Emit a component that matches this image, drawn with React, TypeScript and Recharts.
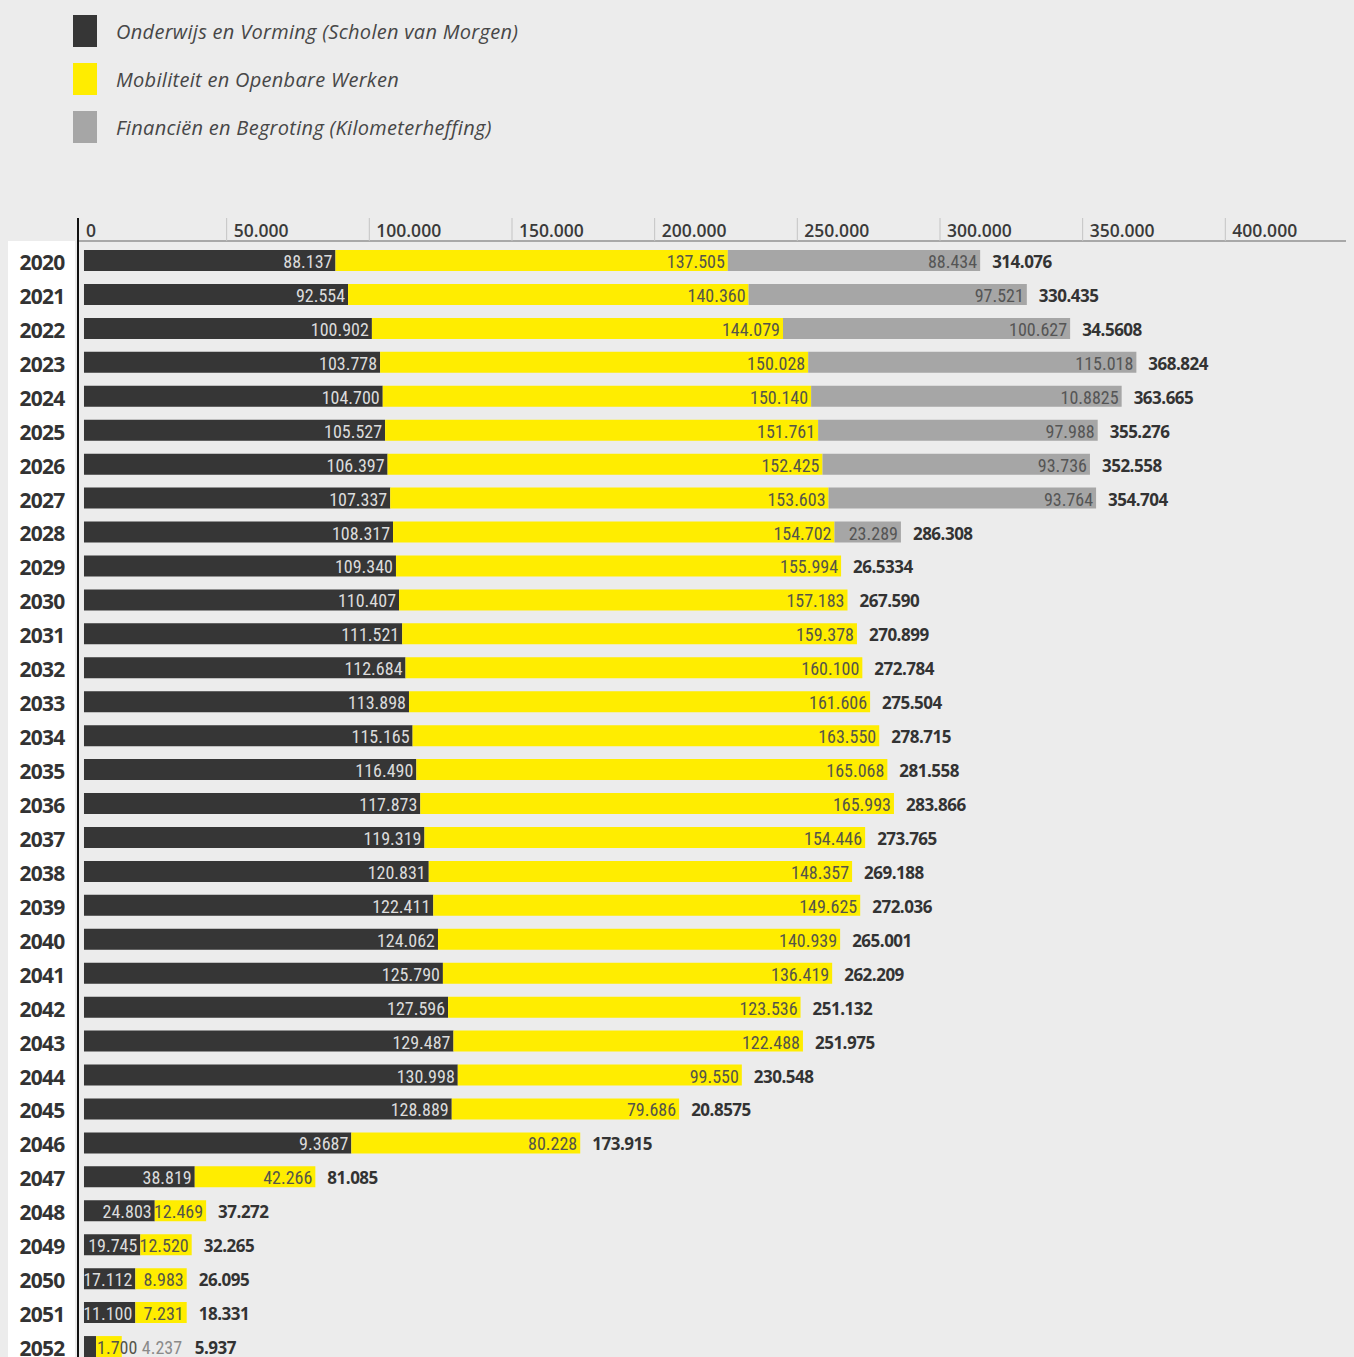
import { Bar, BarChart, LabelList, XAxis, YAxis } from "recharts"

const years = [
  "2020", "2021", "2022", "2023", "2024", "2025", "2026", "2027", "2028", "2029", "2030",
  "2031", "2032", "2033", "2034", "2035", "2036", "2037", "2038", "2039", "2040", "2041",
  "2042", "2043", "2044", "2045", "2046", "2047", "2048", "2049", "2050", "2051", "2052",
]

// Onderwijs en Vorming (Scholen van Morgen)
const onderwijs = [
  88137, 92554, 100902, 103778, 104700, 105527, 106397, 107337, 108317, 109340, 110407,
  111521, 112684, 113898, 115165, 116490, 117873, 119319, 120831, 122411, 124062, 125790,
  127596, 129487, 130998, 128889, 93687, 38819, 24803, 19745, 17112, 11100, 4237,
]

// Mobiliteit en Openbare Werken
const mobiliteit = [
  137505, 140360, 144079, 150028, 150140, 151761, 152425, 153603, 154702, 155994, 157183,
  159378, 160100, 161606, 163550, 165068, 165993, 154446, 148357, 149625, 140939, 136419,
  123536, 122488, 99550, 79686, 80228, 42266, 12469, 12520, 8983, 7231, 1700,
]

// Financiën en Begroting (Kilometerheffing)
const financien = [
  88434, 97521, 100627, 115018, 108825, 97988, 93736, 93764, 23289, 0, 0,
  0, 0, 0, 0, 0, 0, 0, 0, 0, 0, 0,
  0, 0, 0, 0, 0, 0, 0, 0, 0, 0, 0,
]

// labels as printed in the source (typos included)
const onderwijsLabels = [
  "88.137", "92.554", "100.902", "103.778", "104.700", "105.527", "106.397", "107.337", "108.317", "109.340", "110.407",
  "111.521", "112.684", "113.898", "115.165", "116.490", "117.873", "119.319", "120.831", "122.411", "124.062", "125.790",
  "127.596", "129.487", "130.998", "128.889", "9.3687", "38.819", "24.803", "19.745", "17.112", "11.100", "4.237",
]
const mobiliteitLabels = [
  "137.505", "140.360", "144.079", "150.028", "150.140", "151.761", "152.425", "153.603", "154.702", "155.994", "157.183",
  "159.378", "160.100", "161.606", "163.550", "165.068", "165.993", "154.446", "148.357", "149.625", "140.939", "136.419",
  "123.536", "122.488", "99.550", "79.686", "80.228", "42.266", "12.469", "12.520", "8.983", "7.231", "1.700",
]
const financienLabels = [
  "88.434", "97.521", "100.627", "115.018", "10.8825", "97.988", "93.736", "93.764", "23.289",
]
const totalLabels = [
  "314.076", "330.435", "34.5608", "368.824", "363.665", "355.276", "352.558", "354.704", "286.308", "26.5334", "267.590",
  "270.899", "272.784", "275.504", "278.715", "281.558", "283.866", "273.765", "269.188", "272.036", "265.001", "262.209",
  "251.132", "251.975", "230.548", "20.8575", "173.915", "81.085", "37.272", "32.265", "26.095", "18.331", "5.937",
]

const ticks = [0, 50000, 100000, 150000, 200000, 250000, 300000, 350000, 400000]

const DARK = "#363636"
const YELLOW = "#ffed00"
const GREY = "#a6a6a6"
const SANS = "'Open Sans', sans-serif"
const NARROW = "'Liberation Sans Narrow', 'Roboto Condensed', sans-serif"

// the source widens the smallest segments so their label fits
const shown = (v: number, tiny: number) => (v >= 5000 ? Math.max(v, 18000) : Math.max(v, tiny))

const chartData = years.map((year, i) => ({
  year,
  onderwijs: shown(onderwijs[i], 0),
  mobiliteit: shown(mobiliteit[i], 9000),
  financien: financien[i],
}))

const insideLabel = (labels: string[], color: string) => (props: any) => {
  const { x, y, width, height, index } = props
  const text = labels[index]
  if (!text || width < 20) return null
  const fits = width > 35
  return (
    <text
      x={fits ? x + width - 3 : x + 1}
      y={y + height / 2 + 1}
      textAnchor={fits ? "end" : "start"}
      dominantBaseline="central"
      fill={color}
      fontFamily={NARROW}
      fontSize={18}
    >
      {text}
    </text>
  )
}

// total goes after the last non-empty segment of the row
const totalLabel = (onGrey: boolean) => (props: any) => {
  const { x, y, width, height, index } = props
  if (onGrey !== financien[index] > 0) return null
  const end = x + width
  const cy = y + height / 2 + 1
  const tinyDark = onderwijs[index] < 5000
  return (
    <g>
      {tinyDark && (
        <text x={end + 20} y={cy} dominantBaseline="central" fill="#8a8a8a" fontFamily={NARROW} fontSize={18}>
          {onderwijsLabels[index]}
        </text>
      )}
      <text
        x={end + (tinyDark ? 73 : 12)}
        y={cy}
        dominantBaseline="central"
        fill="#333"
        fontFamily={SANS}
        fontWeight={700}
        fontSize={17}
        letterSpacing={-0.5}
      >
        {totalLabels[index]}
      </text>
    </g>
  )
}

const XTick = (props: any) => {
  const { x, payload } = props
  const label = payload.value.toLocaleString("nl-BE")
  return (
    <g>
      {payload.value === 0 ? (
        <line x1={70} x2={70} y1={18} y2={42} stroke="#111" strokeWidth={2} />
      ) : (
        <line x1={x} x2={x} y1={18} y2={41} stroke="#c4c4c4" strokeWidth={1} />
      )}
      <text x={payload.value === 0 ? 78 : x + 7} y={37} fill="#3a3a3a" fontFamily={SANS} fontWeight={600} fontSize={17.5}>
        {label}
      </text>
    </g>
  )
}

const YTick = (props: any) => {
  const { y, payload } = props
  return (
    <text
      x={34}
      y={y + 1}
      textAnchor="middle"
      dominantBaseline="central"
      fill="#333"
      fontFamily={SANS}
      fontWeight={700}
      fontSize={21}
      letterSpacing={-0.7}
    >
      {payload.value}
    </text>
  )
}

const legendItems = [
  { name: "Onderwijs en Vorming (Scholen van Morgen)", color: DARK },
  { name: "Mobiliteit en Openbare Werken", color: YELLOW },
  { name: "Financiën en Begroting (Kilometerheffing)", color: GREY },
]

export default function App() {
  return (
    <div style={{ position: "relative", width: 1354, height: 1349 }}>
      <style>{"html{overflow:hidden;background:#ececec}"}</style>
      <div style={{ position: "absolute", left: 65, top: 7 }}>
        {legendItems.map((item) => (
          <div key={item.name} style={{ display: "flex", alignItems: "center", height: 32, marginBottom: 16 }}>
            <div style={{ width: 24, height: 32, background: item.color }} />
            <span
              style={{
                marginLeft: 19,
                fontFamily: SANS,
                fontStyle: "italic",
                fontSize: 20,
                letterSpacing: 0.3,
                color: "#474747",
              }}
            >
              {item.name}
            </span>
          </div>
        ))}
      </div>
      <div style={{ position: "absolute", left: -2, top: 233, width: 69, height: 1200, background: "#fff" }} />
      <div style={{ position: "absolute", left: 0, top: 192 }}>
        <BarChart
          width={1354}
          height={1164}
          data={chartData}
          layout="vertical"
          margin={{ top: 0, right: 0, bottom: 0, left: 0 }}
          barSize={21}
        >
          <XAxis
            type="number"
            orientation="top"
            domain={[-2100, 447900]}
            ticks={ticks}
            height={41}
            tickLine={false}
            axisLine={{ stroke: "#a8a8a8", strokeWidth: 2 }}
            tick={<XTick />}
            interval={0}
          />
          <YAxis
            type="category"
            dataKey="year"
            width={70}
            tickLine={false}
            axisLine={{ stroke: "#111", strokeWidth: 2 }}
            tick={<YTick />}
            interval={0}
            padding={{ top: 3, bottom: 0 }}
          />
          <Bar dataKey="onderwijs" stackId="a" fill={DARK} isAnimationActive={false}>
            <LabelList dataKey="onderwijs" content={insideLabel(onderwijsLabels, "#dcdcdc")} />
          </Bar>
          <Bar dataKey="mobiliteit" stackId="a" fill={YELLOW} isAnimationActive={false}>
            <LabelList dataKey="mobiliteit" content={insideLabel(mobiliteitLabels, "#55554a")} />
            <LabelList dataKey="mobiliteit" content={totalLabel(false)} />
          </Bar>
          <Bar dataKey="financien" stackId="a" fill={GREY} isAnimationActive={false}>
            <LabelList dataKey="financien" content={insideLabel(financienLabels, "#555")} />
            <LabelList dataKey="financien" content={totalLabel(true)} />
          </Bar>
        </BarChart>
      </div>
    </div>
  )
}
